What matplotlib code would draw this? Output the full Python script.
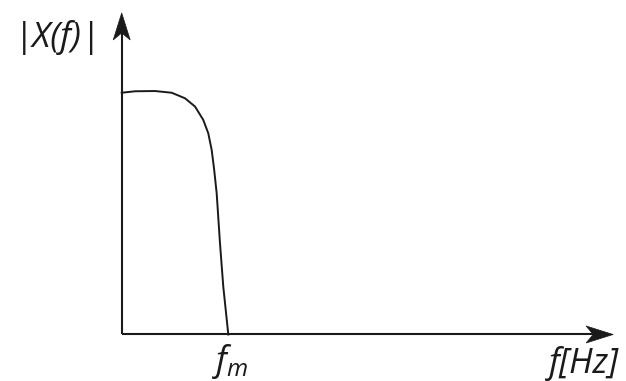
import numpy as np
import matplotlib.pyplot as plt
from matplotlib.patches import Polygon
from matplotlib.transforms import Affine2D, ScaledTranslation

plt.rcParams['font.family'] = ['Open Sans', 'DejaVu Sans']
plt.rcParams['mathtext.fontset'] = 'custom'
plt.rcParams['mathtext.it'] = 'Open Sans:italic'
plt.rcParams['mathtext.rm'] = 'Open Sans'

# magnitude spectrum |X(f)| of a band-limited signal, frequency in units of f_m
freq = [0.0, 0.125, 0.312, 0.469, 0.594, 0.688, 0.765, 0.812, 0.844, 0.866,
        0.891, 0.922, 0.953, 1.0]
mag = [0.997, 1.003, 1.004, 0.997, 0.974, 0.940, 0.885, 0.830, 0.761, 0.685,
       0.582, 0.376, 0.197, 0.0]
f_max = 1.0
x_end, y_end = 4.61, 1.326

ink = '#1a1a1a'
fig = plt.figure(figsize=(6.26, 3.81), dpi=100)
ax = fig.add_axes([0, 0, 1, 1])
ax.set_xlim(-1.1417, 4.7308)
ax.set_ylim(-0.1918, 1.3794)
ax.axis('off')

# axes with stealth-style arrow heads
ax.plot([0, x_end - 0.1], [0, 0], color=ink, lw=1.5, solid_capstyle='butt')
ax.plot([0, 0], [0, y_end - 0.05], color=ink, lw=1.5, solid_capstyle='butt')

def arrow_head(x, y, angle):
    verts = np.array([[0, 0], [-27, 8.5], [-20, 0], [-27, -8.5]])
    tr = Affine2D().rotate_deg(angle) + ScaledTranslation(x, y, ax.transData)
    ax.add_patch(Polygon(verts, closed=True, facecolor=ink, edgecolor=ink,
                         lw=0.5, transform=tr))

arrow_head(x_end, 0, 0)
arrow_head(0, y_end, 90)

ax.plot(freq, mag, color=ink, lw=1.4)

ax.text(-0.607, 1.223, '|X(f)|', fontsize=25, style='italic',
        ha='center', va='center', color=ink)
ax.text(1.016, -0.11, r'$f_m$', fontsize=25, ha='center', va='center',
        color=ink)
ax.text(4.337, -0.12, 'f[Hz]', fontsize=25, style='italic',
        ha='center', va='center', color=ink)

fig.savefig('out.png', dpi=100)
